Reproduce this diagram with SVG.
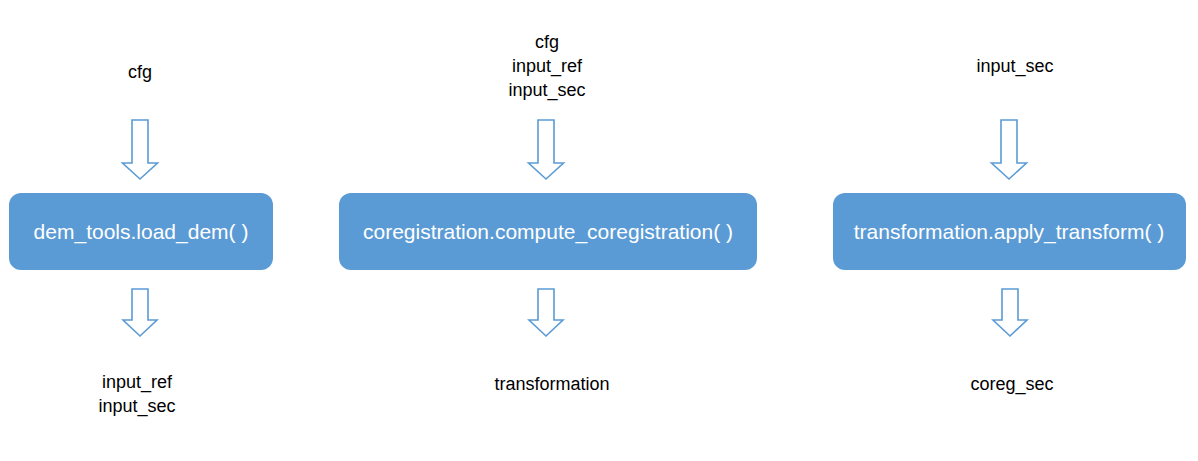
<svg xmlns="http://www.w3.org/2000/svg" width="1198" height="461" viewBox="0 0 1198 461">
<style>
.box{fill:#5B9BD5;}
.bt{fill:#ffffff;font-family:"Liberation Sans",Arial,sans-serif;font-size:21px;text-anchor:middle;}
.lb{fill:#000000;font-family:"Liberation Sans",Arial,sans-serif;font-size:18px;text-anchor:middle;}
.arr{fill:#ffffff;stroke:#5B9BD5;stroke-width:1.6;stroke-linejoin:miter;}
</style>
<defs>
<path id="arrTop" d="M-8,0 H8 V43 H17.5 L0,59 L-17.5,43 H-8 Z"/>
<path id="arrBot" d="M-8,0 H8 V31 H17 L0,47 L-17,31 H-8 Z"/>
</defs>
<rect width="1198" height="461" fill="#ffffff"/>
<g id="connectors">
<use href="#arrTop" class="arr" x="140" y="120"/>
<use href="#arrTop" class="arr" x="546" y="120"/>
<use href="#arrTop" class="arr" x="1009" y="120"/>
<use href="#arrBot" class="arr" x="140" y="289"/>
<use href="#arrBot" class="arr" x="546" y="289"/>
<use href="#arrBot" class="arr" x="1010" y="289"/>
</g>
<g id="node-load-dem">
<rect class="box" x="9" y="193" width="264" height="77" rx="12"/>
<text class="bt" x="141" y="239">dem_tools.load_dem( )</text>
</g>
<g id="node-compute-coreg">
<rect class="box" x="339" y="193" width="418" height="77" rx="12"/>
<text class="bt" x="548" y="239">coregistration.compute_coregistration( )</text>
</g>
<g id="node-apply-transform">
<rect class="box" x="833" y="193" width="353" height="77" rx="12"/>
<text class="bt" x="1009" y="239">transformation.apply_transform( )</text>
</g>
<g id="labels">
<text class="lb" x="140" y="78">cfg</text>
<text class="lb" x="547" y="48">cfg</text>
<text class="lb" x="547" y="72">input_ref</text>
<text class="lb" x="547" y="96">input_sec</text>
<text class="lb" x="1015" y="72">input_sec</text>
<text class="lb" x="137" y="388">input_ref</text>
<text class="lb" x="137" y="412">input_sec</text>
<text class="lb" x="552" y="390">transformation</text>
<text class="lb" x="1012" y="390">coreg_sec</text>
</g>
</svg>
